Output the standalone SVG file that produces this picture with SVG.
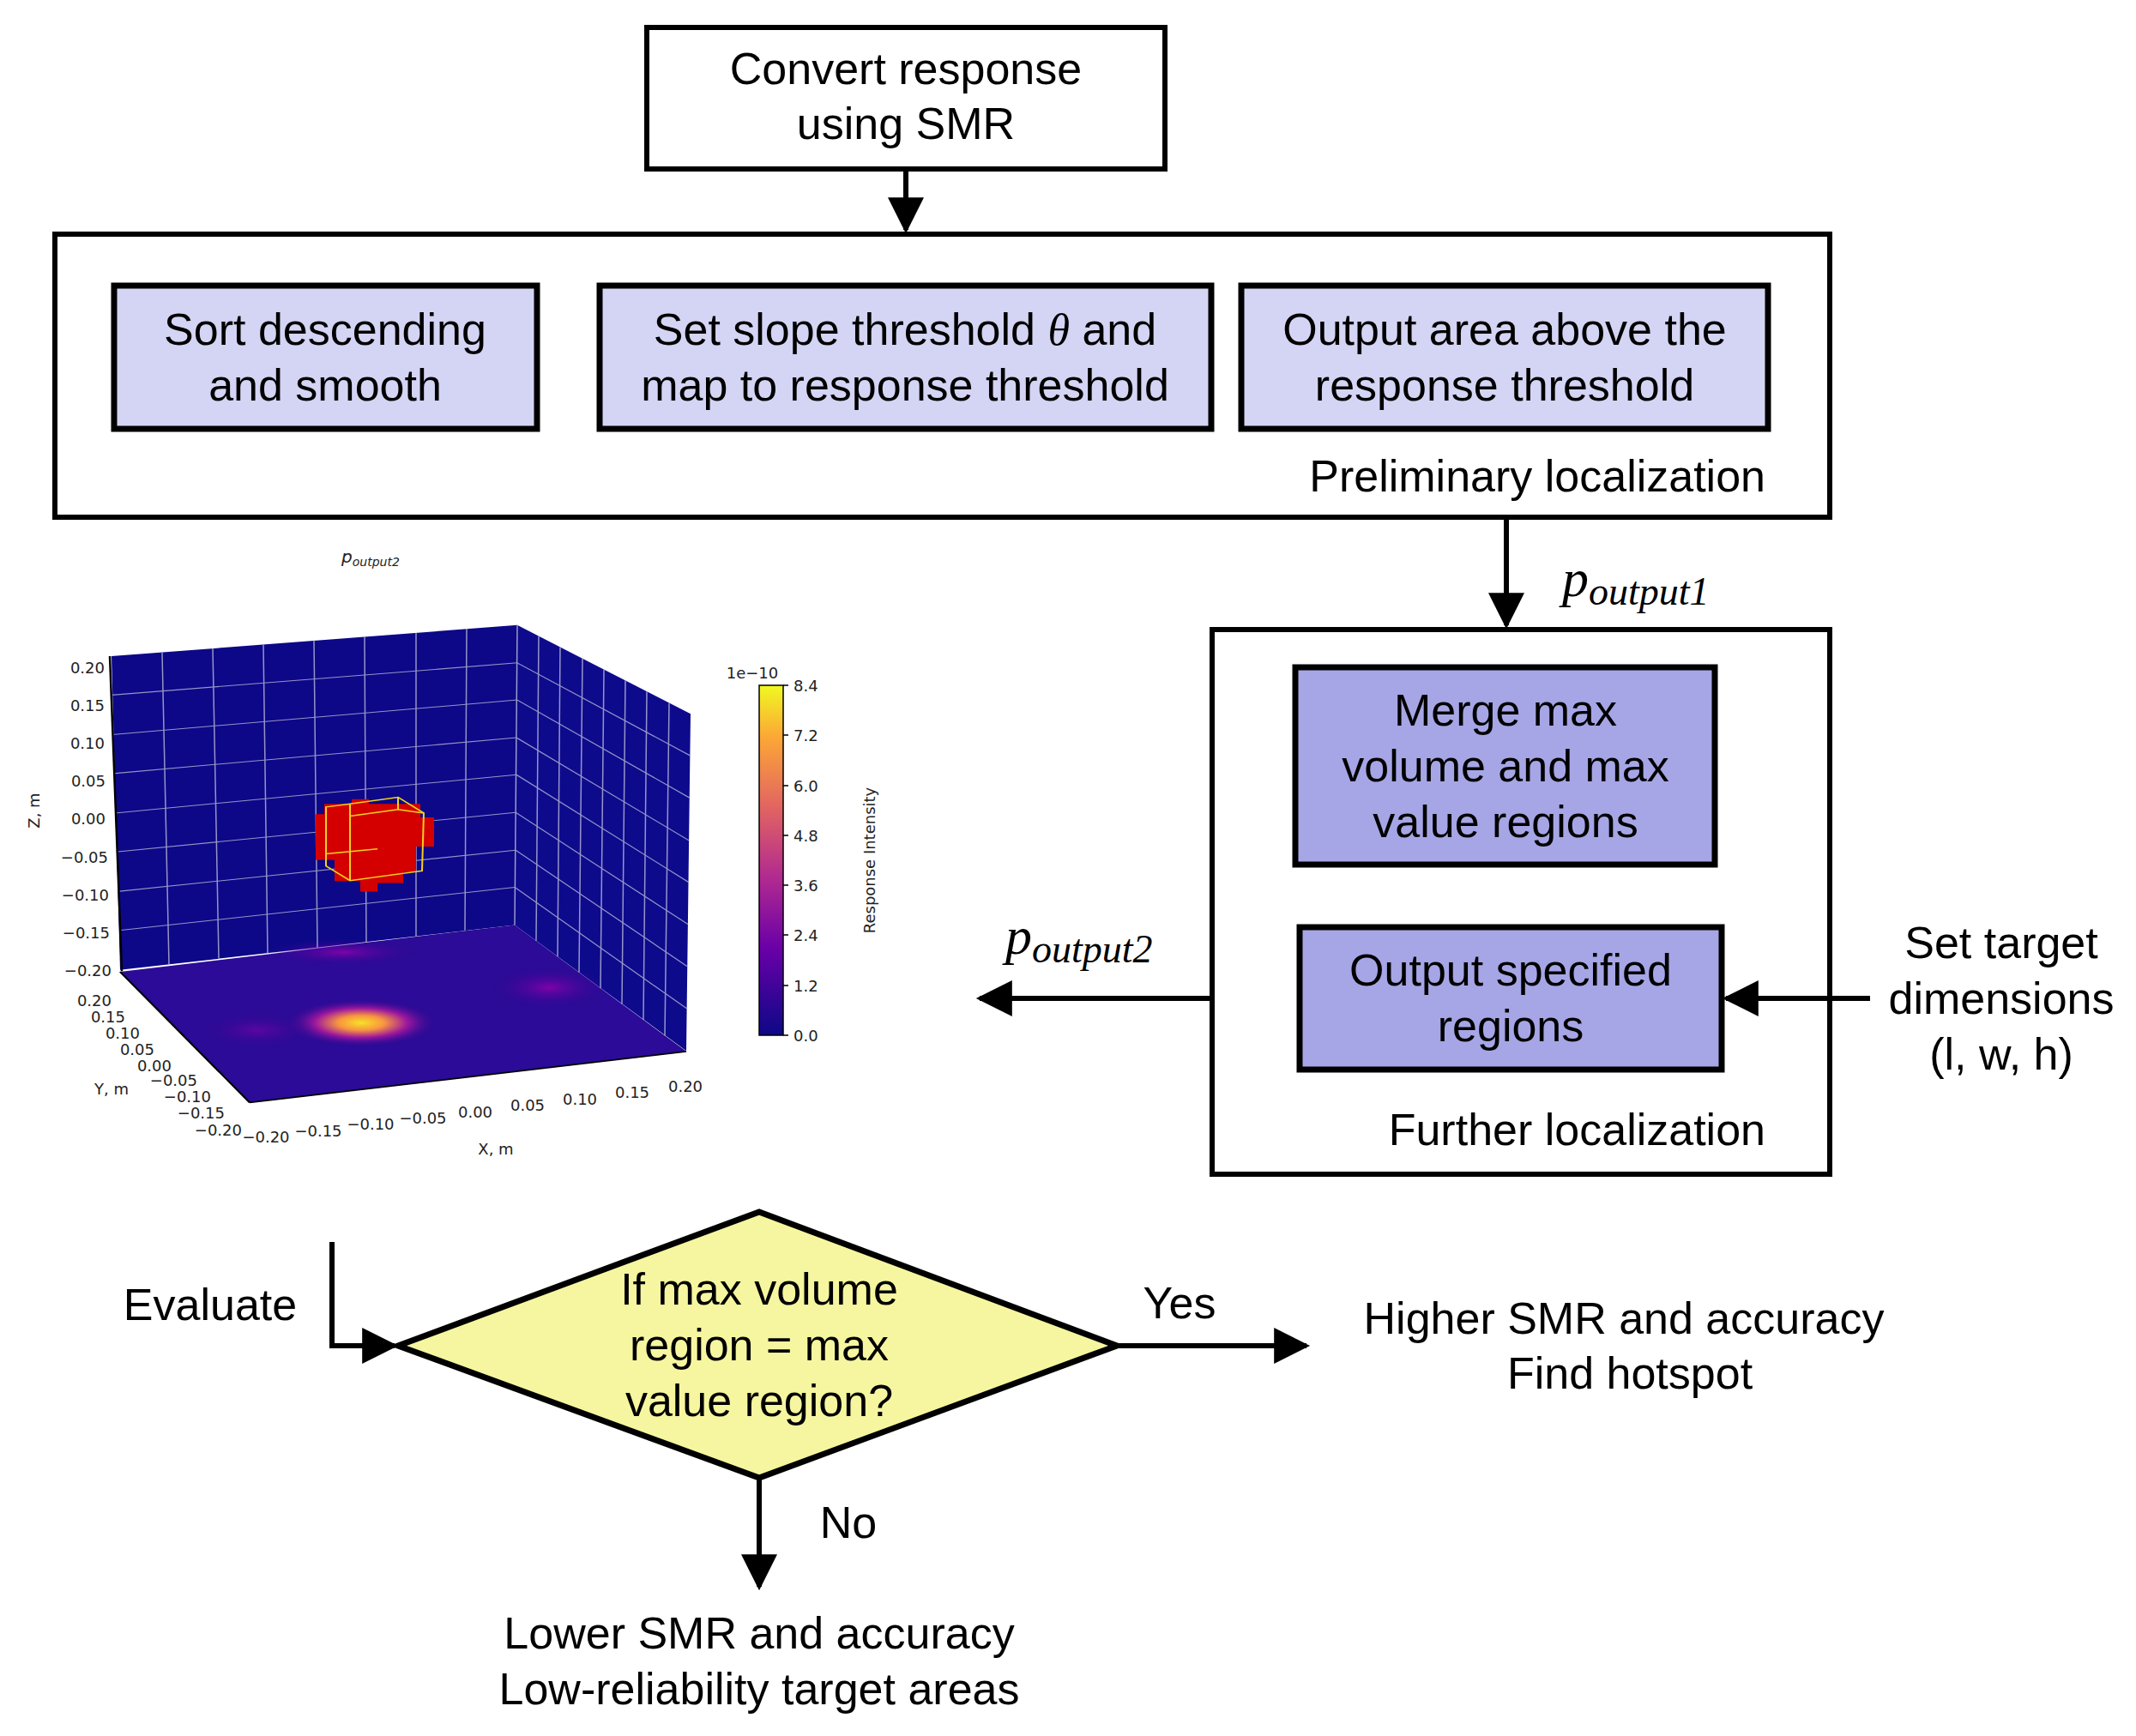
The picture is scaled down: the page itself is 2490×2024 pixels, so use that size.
<svg xmlns="http://www.w3.org/2000/svg" width="2490" height="2024" viewBox="0 0 2490 2024">
<style>
.t{font-family:"Liberation Sans",Arial,sans-serif;font-size:52px;fill:#000;text-anchor:middle}
.box{fill:#fff;stroke:#000;stroke-width:6}
.lb{fill:#d4d4f4;stroke:#000;stroke-width:7}
.db{fill:#a6a6e6;stroke:#000;stroke-width:7}
.ln{stroke:#000;stroke-width:6;fill:none}
.m{font-family:"Liberation Serif","DejaVu Serif",serif;font-style:italic;fill:#000}
.s{font-family:"DejaVu Sans",sans-serif;font-size:18px;fill:#222}
.g{stroke:#b8b8d8;stroke-width:1.5;opacity:.8}
</style>
<defs>
<marker id="a" viewBox="0 0 10 10" refX="9" refY="5" markerWidth="8" markerHeight="7" orient="auto"><path d="M0,0L10,5L0,10z" fill="#000"/></marker>
<linearGradient id="cb" x1="0" y1="1" x2="0" y2="0">
<stop offset="0" stop-color="#0d0887"/><stop offset=".25" stop-color="#6a00a8"/><stop offset=".45" stop-color="#b12a90"/><stop offset=".65" stop-color="#e16462"/><stop offset=".85" stop-color="#fca636"/><stop offset="1" stop-color="#f0f921"/>
</linearGradient>
<radialGradient id="hot"><stop offset="0" stop-color="#f7e225"/><stop offset=".3" stop-color="#f89540"/><stop offset=".6" stop-color="#9c179e"/><stop offset="1" stop-color="#2a0593" stop-opacity="0"/></radialGradient>
<radialGradient id="warm"><stop offset="0" stop-color="#7e03a8"/><stop offset="1" stop-color="#2a0593" stop-opacity="0"/></radialGradient>
</defs>

<g id="n_convert"><rect class="box" x="754" y="32" width="604" height="165"/><text class="t" x="1056" y="98">Convert response</text><text class="t" x="1056" y="162">using SMR</text></g>

<g id="n_prelim"><rect class="box" x="64" y="273" width="2069" height="330"/><text class="t" x="2058" y="573" style="text-anchor:end">Preliminary localization</text></g>
<g id="n_sort"><rect class="lb" x="133" y="333" width="493" height="167"/><text class="t" x="379" y="402">Sort descending</text><text class="t" x="379" y="467">and smooth</text></g>
<g id="n_slope"><rect class="lb" x="699" y="333" width="713" height="167"/><text class="t" x="1055" y="402">Set slope threshold <tspan class="m">θ</tspan> and</text><text class="t" x="1055" y="467">map to response threshold</text></g>
<g id="n_outarea"><rect class="lb" x="1447" y="333" width="614" height="167"/><text class="t" x="1754" y="402">Output area above the</text><text class="t" x="1754" y="467">response  threshold</text></g>

<g id="n_further"><rect class="box" x="1413" y="734" width="720" height="635"/><text class="t" x="2058" y="1335" style="text-anchor:end">Further localization</text></g>
<g id="n_merge"><rect class="db" x="1510" y="778" width="489" height="230"/><text class="t" x="1755" y="846">Merge max</text><text class="t" x="1755" y="911">volume and max</text><text class="t" x="1755" y="976">value regions</text></g>
<g id="n_outspec"><rect class="db" x="1515" y="1081" width="492" height="166"/><text class="t" x="1761" y="1149">Output specified</text><text class="t" x="1761" y="1214">regions</text></g>
<g id="n_settarget"><text class="t" x="2333" y="1117">Set target</text><text class="t" x="2333" y="1182">dimensions</text><text class="t" x="2333" y="1247">(l, w, h)</text></g>

<g id="n_decision"><polygon points="464,1569 885,1413 1302,1569 885,1723" fill="#f6f6a0" stroke="#000" stroke-width="7"/><text class="t" x="885" y="1521">If max volume</text><text class="t" x="885" y="1586">region = max</text><text class="t" x="885" y="1651">value region?</text></g>
<g id="n_evaluate"><text class="t" x="245" y="1539">Evaluate</text></g>
<g id="n_higher"><text class="t" x="1893" y="1555">Higher SMR and accuracy</text><text class="t" x="1900" y="1619">Find hotspot</text></g>
<g id="n_lower"><text class="t" x="885" y="1922">Lower SMR and accuracy</text><text class="t" x="885" y="1987">Low-reliability target areas</text></g>

<g id="connectors">
<line class="ln" x1="1056" y1="197" x2="1056" y2="268" marker-end="url(#a)"/>
<line class="ln" x1="1756" y1="603" x2="1756" y2="729" marker-end="url(#a)"/>
<line class="ln" x1="2180" y1="1164" x2="2012" y2="1164" marker-end="url(#a)"/>
<line class="ln" x1="1413" y1="1164" x2="1142" y2="1164" marker-end="url(#a)"/>
<polyline class="ln" points="387,1448 387,1569 460,1569" marker-end="url(#a)"/>
<line class="ln" x1="1302" y1="1569" x2="1523" y2="1569" marker-end="url(#a)"/>
<line class="ln" x1="885" y1="1723" x2="885" y2="1850" marker-end="url(#a)"/>
<text class="m" x="1821" y="695" font-size="62">p<tspan font-size="46" dy="10">output1</tspan></text>
<text class="m" x="1172" y="1112" font-size="62">p<tspan font-size="46" dy="10">output2</tspan></text>
<text class="t" x="1375" y="1537">Yes</text>
<text class="t" x="989" y="1793">No</text>
</g>

<g id="plot">
<text x="398" y="656" style="font-family:'DejaVu Sans',sans-serif;font-size:20px;font-style:italic" fill="#222">p<tspan font-size="14" dy="4">output2</tspan></text>
<g transform="translate(0,173) scale(1,0.709)">
<polygon points="130,835 603,784 600,1277 140,1351" fill="#0d0887"/>
<polygon points="603,784 805,930 800,1484 600,1277" fill="#0e0a8c"/>
<polygon points="140,1354 600,1277 800,1485 291,1569" fill="#2b0b97"/>
<ellipse cx="421" cy="1438" rx="90" ry="40" fill="url(#hot)"/>
<ellipse cx="400" cy="1322" rx="90" ry="22" fill="url(#warm)"/>
<ellipse cx="640" cy="1380" rx="70" ry="35" fill="url(#warm)"/>
<ellipse cx="300" cy="1450" rx="70" ry="30" fill="url(#warm)" opacity=".6"/>
<g class="g">
<line x1="130" y1="899" x2="603" y2="846"/><line x1="131" y1="964" x2="603" y2="907"/><line x1="132" y1="1028" x2="602" y2="969"/><line x1="134" y1="1093" x2="602" y2="1030"/><line x1="135" y1="1157" x2="601" y2="1092"/><line x1="137" y1="1222" x2="601" y2="1154"/><line x1="139" y1="1286" x2="600" y2="1215"/>
<line x1="189" y1="829" x2="197" y2="1342"/><line x1="248" y1="822" x2="255" y2="1332"/><line x1="307" y1="816" x2="312" y2="1323"/><line x1="366" y1="809" x2="370" y2="1314"/><line x1="425" y1="803" x2="427" y2="1305"/><line x1="485" y1="797" x2="485" y2="1296"/><line x1="544" y1="790" x2="542" y2="1286"/>
<line x1="603" y1="784" x2="600" y2="1277"/>
<line x1="603" y1="846" x2="805" y2="999"/><line x1="603" y1="907" x2="804" y2="1068"/><line x1="602" y1="969" x2="803" y2="1138"/><line x1="602" y1="1030" x2="803" y2="1207"/><line x1="601" y1="1092" x2="802" y2="1276"/><line x1="601" y1="1154" x2="801" y2="1345"/><line x1="600" y1="1215" x2="801" y2="1415"/>
<line x1="628" y1="802" x2="625" y2="1303"/><line x1="653" y1="820" x2="650" y2="1329"/><line x1="679" y1="839" x2="675" y2="1355"/><line x1="704" y1="857" x2="700" y2="1381"/><line x1="729" y1="875" x2="725" y2="1407"/><line x1="754" y1="893" x2="750" y2="1433"/><line x1="780" y1="912" x2="775" y2="1459"/>
</g>
<path d="M378,1078 H410 V1070 H430 V1078 H490 V1100 H506 V1148 H485 V1190 H470 V1208 H440 V1222 H420 V1205 H390 V1170 H368 V1095 H378Z" fill="#d40000"/>
<g fill="none" stroke="#f2d020" stroke-width="2"><path d="M380,1083 L408,1078 L464,1067 L494,1093 L492,1188 L408,1204 L380,1180 Z"/><path d="M408,1078 V1204 M408,1098 L464,1087 L494,1093 M464,1067 V1087 M380,1160 L440,1152"/></g>
<g stroke="#000" stroke-width="2.5"><line x1="128" y1="835" x2="142" y2="1353"/><line x1="140" y1="1354" x2="291" y2="1569"/><line x1="291" y1="1569" x2="800" y2="1485"/></g>
</g>
<g class="s" text-anchor="end">
<text x="122" y="785">0.20</text><text x="122" y="829">0.15</text><text x="122" y="873">0.10</text><text x="123" y="917">0.05</text><text x="123" y="961">0.00</text><text x="126" y="1006">−0.05</text><text x="127" y="1050">−0.10</text><text x="128" y="1094">−0.15</text><text x="130" y="1138">−0.20</text>
</g>
<g class="s" text-anchor="end" font-size="16">
<text x="130" y="1173">0.20</text><text x="146" y="1192">0.15</text><text x="163" y="1211">0.10</text><text x="180" y="1230">0.05</text><text x="200" y="1249">0.00</text><text x="230" y="1266">−0.05</text><text x="246" y="1285">−0.10</text><text x="262" y="1304">−0.15</text><text x="282" y="1324">−0.20</text>
</g>
<g class="s" text-anchor="middle">
<text x="310" y="1332">−0.20</text><text x="371" y="1325">−0.15</text><text x="432" y="1317">−0.10</text><text x="493" y="1310">−0.05</text><text x="554" y="1303">0.00</text><text x="615" y="1295">0.05</text><text x="676" y="1288">0.10</text><text x="737" y="1280">0.15</text><text x="799" y="1273">0.20</text>
</g>
<text class="s" x="150" y="1276" text-anchor="end">Y, m</text>
<text class="s" transform="translate(46,945) rotate(-90)" text-anchor="middle">Z, m</text>
<text class="s" x="578" y="1346" text-anchor="middle">X, m</text>
<rect x="885" y="799" width="28" height="408" fill="url(#cb)" stroke="#000" stroke-width="1.5"/>
<g stroke="#000" stroke-width="1.5"><line x1="913" y1="799" x2="919" y2="799"/><line x1="913" y1="857" x2="919" y2="857"/><line x1="913" y1="916" x2="919" y2="916"/><line x1="913" y1="974" x2="919" y2="974"/><line x1="913" y1="1032" x2="919" y2="1032"/><line x1="913" y1="1090" x2="919" y2="1090"/><line x1="913" y1="1149" x2="919" y2="1149"/><line x1="913" y1="1207" x2="919" y2="1207"/></g>
<g class="s">
<text x="925" y="806">8.4</text><text x="925" y="864">7.2</text><text x="925" y="923">6.0</text><text x="925" y="981">4.8</text><text x="925" y="1039">3.6</text><text x="925" y="1097">2.4</text><text x="925" y="1156">1.2</text><text x="925" y="1214">0.0</text>
<text x="877" y="791" text-anchor="middle">1e−10</text>
</g>
<text class="s" transform="translate(1020,1003) rotate(-90)" text-anchor="middle">Response Intensity</text>
</g>
</svg>
